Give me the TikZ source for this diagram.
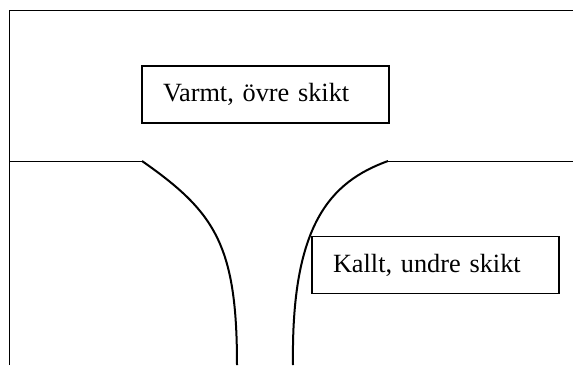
\documentclass[tikz,border=0pt]{standalone}
\usepackage{fontspec}
\setmainfont{Liberation Serif}
\usetikzlibrary{positioning}

\begin{document}
\begin{tikzpicture}[x=1pt, y=-1pt,
		layerbox/.style={rectangle,draw,line width=1.3pt,minimum width=247pt,minimum height=57pt,
			inner xsep=21pt,text width=205pt,align=left,font=\fontsize{26.3}{30}\selectfont},
		frameline/.style={line width=1pt},
		flowline/.style={line width=2pt}
		]
		\useasboundingbox (0,0) rectangle (573,365);
		\node[layerbox](warm) at (265.5,94.5){Varmt, övre skikt};
		\node[layerbox](cold) at (435.5,265){Kallt, undre skikt};
		
		\coordinate (TL) at (9,10);
		\coordinate (TR) at (573,10);
		\coordinate (BL) at (9,365);
		\coordinate (L1) at (9,161);
		\coordinate (L2) at (142,161);
		\coordinate (R1) at (388,161);
		\coordinate (R2) at (573,161);
		\coordinate (D1) at (237,365);
		\coordinate (D2) at (293,365);
		
		\draw[frameline] (BL) -- (TL) -- (TR);
		\draw[frameline] (L1) -- (L2);
		\draw[frameline] (R1) -- (R2);
		\draw[flowline] (L2) .. controls (215,212) and (237,245) .. (D1);
		\draw[flowline] (R1) .. controls (330,182) and (291,225) .. (D2);

	\end{tikzpicture}
\end{document}
